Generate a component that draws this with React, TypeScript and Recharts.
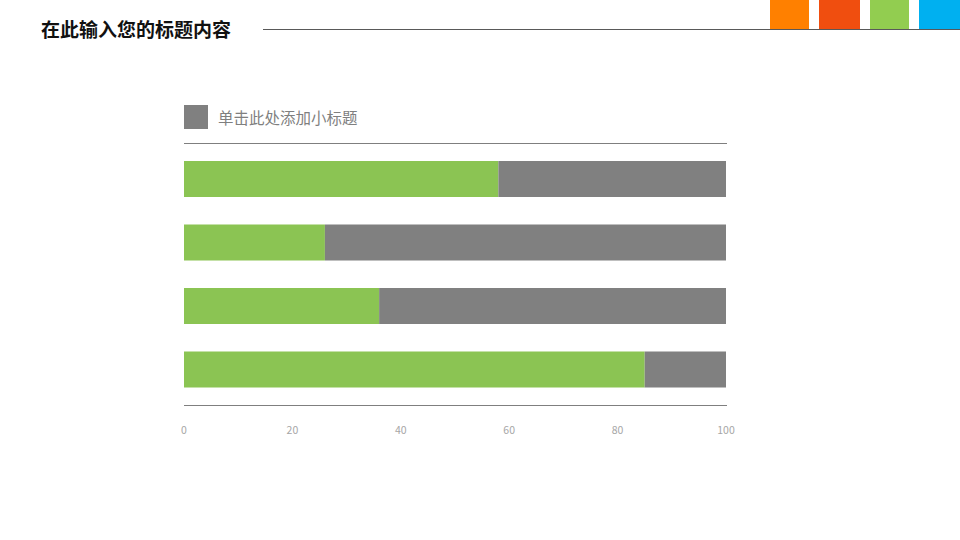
import { BarChart, Bar, XAxis, YAxis } from 'recharts';

const categories = ['项目1', '项目2', '项目3', '项目4'];
const doneValues = [58, 26, 36, 85];
const restValues = [42, 74, 64, 15];
const xTicks = [0, 20, 40, 60, 80, 100];
const cornerColors = ['#FF8000', '#F04E0F', '#92CD50', '#00B0F0'];

const GREEN = '#8BC453';
const GRAY = '#808080';
const CJK = '"Noto Sans CJK SC", "Noto Sans", sans-serif';

const data = categories.map((name, i) => ({
  name,
  done: doneValues[i],
  rest: restValues[i],
}));

export default function App() {
  return (
    <div
      style={{
        position: 'absolute',
        left: 0,
        top: 0,
        width: 960,
        height: 540,
        background: '#fff',
        overflow: 'hidden',
        fontFamily: CJK,
      }}
    >
      {/* page title + header rule */}
      <div
        style={{
          position: 'absolute',
          left: 41,
          top: 16,
          fontSize: 19,
          fontWeight: 700,
          lineHeight: '26px',
          color: '#111',
        }}
      >
        在此输入您的标题内容
      </div>
      <div style={{ position: 'absolute', left: 263, top: 29, width: 697, height: 1, background: '#595959' }} />
      {cornerColors.map((c, i) => (
        <div
          key={c}
          style={{
            position: 'absolute',
            left: [770, 819, 870, 919][i],
            top: 0,
            width: [39, 41, 39, 41][i],
            height: 29,
            background: c,
          }}
        />
      ))}

      {/* subtitle */}
      <div style={{ position: 'absolute', left: 184, top: 105, width: 24, height: 24, background: GRAY }} />
      <div
        style={{
          position: 'absolute',
          left: 218,
          top: 106,
          fontSize: 15.5,
          lineHeight: '22px',
          color: '#7f7f7f',
        }}
      >
        单击此处添加小标题
      </div>
      <div style={{ position: 'absolute', left: 184, top: 143, width: 543, height: 1, background: '#7f7f7f' }} />
      <div style={{ position: 'absolute', left: 184, top: 405, width: 543, height: 1, background: '#7f7f7f' }} />

      <div style={{ position: 'absolute', left: 0, top: 0 }}>
        <BarChart
          width={960}
          height={540}
          data={data}
          layout="vertical"
          margin={{ top: 147, right: 234, bottom: 109, left: 184 }}
          barSize={36}
        >
          <XAxis
            type="number"
            domain={[0, 100]}
            ticks={xTicks}
            axisLine={false}
            tickLine={false}
            tickMargin={20}
            height={30}
            tick={{ fontSize: 10.5, fill: '#a6a6a6', fontFamily: CJK }}
          />
          <YAxis type="category" dataKey="name" hide width={0} />
          <Bar dataKey="done" stackId="a" fill={GREEN} isAnimationActive={false} />
          <Bar dataKey="rest" stackId="a" fill={GRAY} isAnimationActive={false} />
        </BarChart>
      </div>
    </div>
  );
}
